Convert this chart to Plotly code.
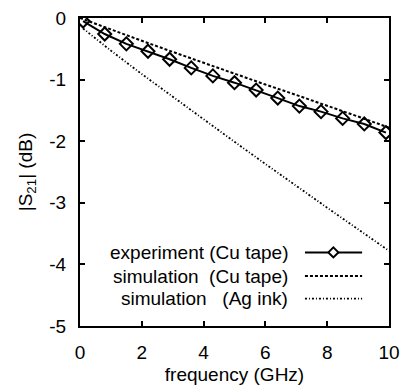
import plotly.graph_objects as go

# Data
exp_freq = [0.1, 0.8, 1.5, 2.2, 2.9, 3.6, 4.3, 5.0, 5.7, 6.4, 7.1, 7.8, 8.5, 9.2, 9.9]
exp_s21 = [-0.05, -0.26, -0.42, -0.54, -0.67, -0.81, -0.94, -1.05, -1.17, -1.30,
           -1.43, -1.52, -1.63, -1.72, -1.86]

sim_cu_freq = [0, 1, 2, 3, 4, 5, 6, 7, 8, 9, 10]
sim_cu_s21 = [0, -0.19, -0.37, -0.55, -0.73, -0.90, -1.08, -1.25, -1.42, -1.60, -1.78]

sim_ag_freq = [0.1, 1, 2, 3, 4, 5, 6, 7, 8, 9, 10]
sim_ag_s21 = [-0.17, -0.53, -0.91, -1.28, -1.65, -2.01, -2.37, -2.73, -3.08, -3.43, -3.78]

x_ticks = [0, 2, 4, 6, 8, 10]
x_ticktext = ["0", "2", "4", "6", "8", "10"]
y_ticks = [0, -1, -2, -3, -4, -5]
y_ticktext = ["0", "-1", "-2", "-3", "-4", "-5"]

legend_labels = ["experiment (Cu tape)",
                 "simulation\u00a0\u00a0(Cu tape)",
                 "simulation\u00a0\u00a0\u00a0(Ag ink)"]

FONT = "Liberation Sans, Arial, Helvetica, sans-serif"
FS = 19

DOT = dict(color="black", width=1.8, dash="2px,2px,1px,2px")
DASH = dict(color="black", width=2, dash="3px,2px")

fig = go.Figure()
fig.add_trace(go.Scatter(x=exp_freq, y=exp_s21, mode="lines+markers",
                         line=dict(color="black", width=2),
                         marker=dict(symbol="diamond-open", size=10, color="black",
                                     line=dict(width=2, color="black")),
                         showlegend=False))
fig.add_trace(go.Scatter(x=sim_cu_freq, y=sim_cu_s21, mode="lines",
                         line=DASH, showlegend=False))
fig.add_trace(go.Scatter(x=sim_ag_freq, y=sim_ag_s21, mode="lines",
                         line=DOT, showlegend=False))

# Manual legend (text left, sample right)
row_y = [0.239, 0.162, 0.089]
styles = [dict(color="black", width=2), DASH, DOT]
for lab, yy, st in zip(legend_labels, row_y, styles):
    fig.add_annotation(x=0.68, y=yy, xref="paper", yref="paper", text=lab,
                       showarrow=False, xanchor="right", yanchor="middle",
                       font=dict(family=FONT, size=FS, color="black"))
    fig.add_shape(type="line", xref="paper", yref="paper", x0=0.728, x1=0.913,
                  y0=yy, y1=yy, line=st)
fig.add_shape(type="path", xref="paper", yref="paper",
              xsizemode="pixel", ysizemode="pixel", xanchor=0.82, yanchor=row_y[0],
              path="M -5 0 L 0 5 L 5 0 L 0 -5 Z",
              fillcolor="white", line=dict(color="black", width=2))

fig.update_layout(
    width=401, height=387,
    margin=dict(l=80, r=12, t=18, b=61),
    paper_bgcolor="white", plot_bgcolor="white",
    font=dict(family=FONT, size=FS, color="black"),
    xaxis=dict(range=[0, 10], tickvals=x_ticks, ticktext=x_ticktext,
               ticks="inside", ticklen=5, tickwidth=1.5, tickcolor="black",
               showline=True, linecolor="black", linewidth=2, mirror="ticks",
               showgrid=False, zeroline=False, ticklabelstandoff=8,
               automargin=False,
               title=dict(text="frequency (GHz)", standoff=6,
                          font=dict(family=FONT, size=FS))),
    yaxis=dict(range=[-5, 0], tickvals=y_ticks, ticktext=y_ticktext,
               ticks="inside", ticklen=5, tickwidth=1.5, tickcolor="black",
               showline=True, linecolor="black", linewidth=2, mirror="ticks",
               showgrid=False, zeroline=False, ticklabelstandoff=8,
               automargin=False,
               title=dict(text="|S<sub>21</sub>| (dB)", standoff=12,
                          font=dict(family=FONT, size=FS))),
)

fig.write_html("out.html")
